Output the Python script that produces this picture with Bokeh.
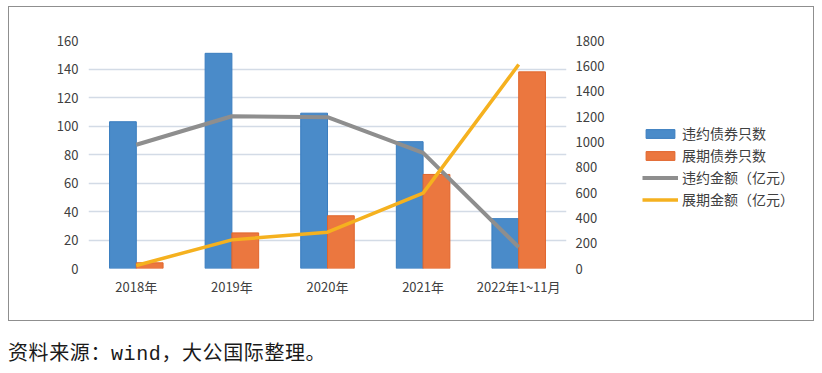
from bokeh.plotting import figure
from bokeh.models import Range1d, LinearAxis, SingleIntervalTicker, Legend, LegendItem, ColumnDataSource, Div
from bokeh.transform import dodge
from bokeh.layouts import column, row
from bokeh.embed import file_html
from bokeh.resources import INLINE

categories = ["2018年", "2019年", "2020年", "2021年", "2022年1~11月"]
default_count = [103, 151, 109, 89, 35]        # 违约债券只数
extension_count = [4, 25, 37, 66, 138]         # 展期债券只数
default_amount = [977, 1202, 1195, 913, 168]   # 违约金额（亿元）
extension_amount = [24, 226, 287, 595, 1610]   # 展期金额（亿元）
series_names = ["违约债券只数", "展期债券只数", "违约金额（亿元）", "展期金额（亿元）"]

FONT = "Noto Sans CJK SC"
TXT = "#404040"
BLUE, BLUE_EDGE = "#4a8bc9", "#3a7dbf"
ORANGE, ORANGE_EDGE = "#eb773f", "#e0652c"
GRAY, YELLOW = "#8e8e8e", "#f5b11f"
NAN = float("nan")

source = ColumnDataSource(dict(cat=categories, dc=default_count, ec=extension_count,
                               da=default_amount, ea=extension_amount))

p = figure(x_range=categories, y_range=Range1d(0, 160), width=611, height=313,
           output_backend="svg", toolbar_location=None)
p.extra_y_ranges = {"amt": Range1d(0, 1800)}
p.min_border_left = 79
p.min_border_right = 54
p.min_border_top = 33
p.min_border_bottom = 52
p.outline_line_color = None
p.background_fill_color = "white"
p.border_fill_color = "white"

p.vbar(x=dodge("cat", -0.14, range=p.x_range), top="dc", width=0.28, source=source,
       fill_color=BLUE, line_color=BLUE_EDGE, line_width=1)
p.vbar(x=dodge("cat", 0.14, range=p.x_range), top="ec", width=0.28, source=source,
       fill_color=ORANGE, line_color=ORANGE_EDGE, line_width=1)
p.line(x="cat", y="da", source=source, y_range_name="amt", line_color=GRAY, line_width=4)
p.line(x="cat", y="ea", source=source, y_range_name="amt", line_color=YELLOW, line_width=3.5)

p.xgrid.grid_line_color = None
p.ygrid.grid_line_color = "#d3dbe6"
p.ygrid.grid_line_width = 1.5
p.ygrid.ticker = SingleIntervalTicker(interval=20)

la = p.yaxis[0]
la.ticker = SingleIntervalTicker(interval=20)
ra = LinearAxis(y_range_name="amt", ticker=SingleIntervalTicker(interval=200))
p.add_layout(ra, "right")
for ax in [la, ra, p.xaxis[0]]:
    ax.axis_line_color = None
    ax.major_tick_line_color = None
    ax.minor_tick_line_color = None
    ax.major_label_text_font = FONT
    ax.major_label_text_font_size = "13px"
    ax.major_label_text_color = TXT
la.major_label_standoff = 4
ra.major_label_standoff = 3
p.xaxis[0].major_label_standoff = 2

# legend panel (a figure of its own so the legend is not clipped by the chart frame)
pl = figure(width=193, height=313, x_range=Range1d(0, 1), y_range=Range1d(0, 1),
            output_backend="svg", toolbar_location=None,
            x_axis_location=None, y_axis_location=None)
pl.min_border_left = 0
pl.min_border_right = 0
pl.min_border_top = 33
pl.min_border_bottom = 52
pl.grid.visible = False
pl.outline_line_color = None
pl.border_fill_color = "white"
# legend keys only: glyphs with no drawable point
g1 = pl.vbar(x=[NAN], top=[NAN], width=0.5, fill_color=BLUE, line_color=BLUE_EDGE)
g2 = pl.vbar(x=[NAN], top=[NAN], width=0.5, fill_color=ORANGE, line_color=ORANGE_EDGE)
g3 = pl.line(x=[NAN], y=[NAN], line_color=GRAY, line_width=4)
g4 = pl.line(x=[NAN], y=[NAN], line_color=YELLOW, line_width=3.5)

legend = Legend(items=[LegendItem(label=n, renderers=[r])
                       for n, r in zip(series_names, [g1, g2, g3, g4])],
                location=(22, 59))
legend.padding = 0
legend.margin = 0
legend.spacing = 2
legend.glyph_width = 36
legend.glyph_height = 11
legend.label_height = 20
legend.label_standoff = 4
legend.label_text_font = FONT
legend.label_text_font_size = "14px"
legend.label_text_color = TXT
legend.border_line_color = None
legend.background_fill_alpha = 0
pl.add_layout(legend, "center")

box = row(p, pl, spacing=0, styles={"border": "1px solid #8f8f8f"})
box.margin = (6, 0, 0, 8)

note = Div(text="资料来源：wind，大公国际整理。", width=806, height=40,
           styles={"font-family": "'Liberation Mono', 'Noto Sans CJK SC'", "font-size": "20px",
                   "letter-spacing": "0.6px",
                   "color": "#1a1a1a", "margin-left": "8px", "margin-top": "20px"})

layout = column(box, note, spacing=0)
open("out.html", "w").write(file_html(layout, INLINE))
